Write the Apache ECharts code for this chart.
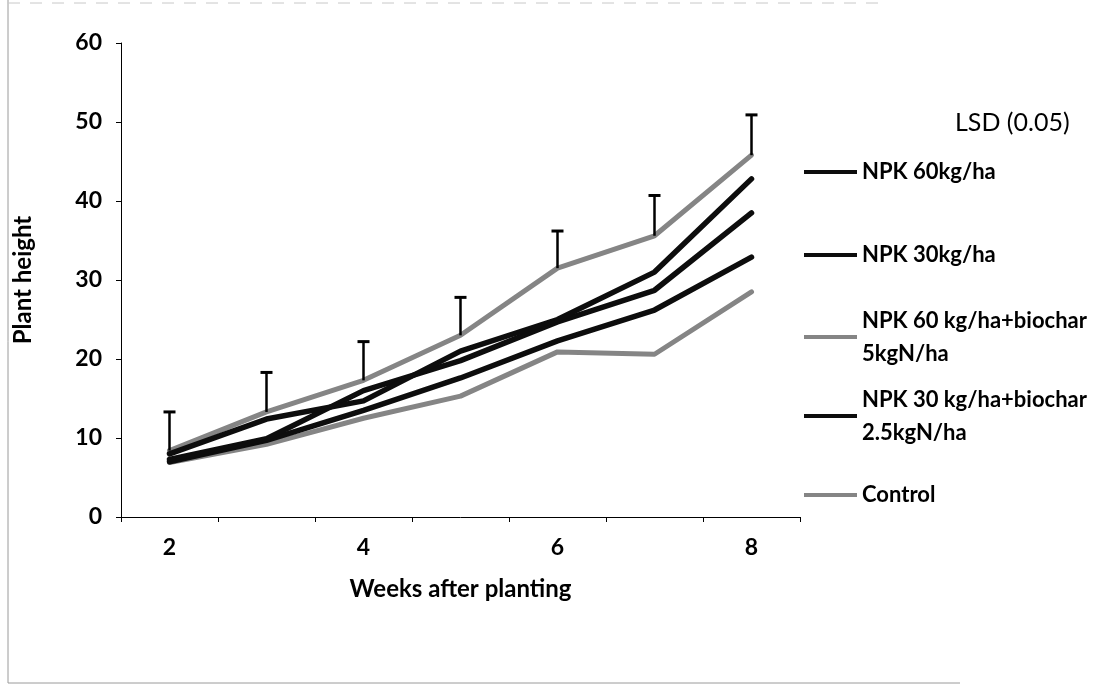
<!DOCTYPE html>
<html>
<head>
<meta charset="utf-8">
<script src="https://cdn.jsdelivr.net/npm/echarts@6/dist/echarts.min.js"></script>
<style>
  html, body { margin: 0; padding: 0; background: #fff; }
  #chart { width: 1116px; height: 690px; }
</style>
</head>
<body>
<div id="chart"></div>
<script>
// ---- data ----
const weeks = ['2', '3', '4', '5', '6', '7', '8'];
const npk60 = [8.0, 12.4, 14.7, 21.0, 25.0, 31.0, 42.8];
const npk30 = [7.0, 9.7, 13.5, 17.6, 22.3, 26.2, 32.9];
const npk60Biochar = [8.4, 13.3, 17.3, 23.0, 31.5, 35.6, 45.8];
const npk30Biochar = [7.3, 9.9, 16.0, 19.8, 24.7, 28.7, 38.5];
const control = [6.9, 9.2, 12.5, 15.3, 20.9, 20.6, 28.5];
const lsd = [4.9, 5.0, 4.9, 4.8, 4.7, 5.1, 5.1];

const names = {
  lsd: 'LSD (0.05)',
  npk60: 'NPK 60kg/ha',
  npk30: 'NPK 30kg/ha',
  npk60b: 'NPK 60 kg/ha+biochar\n5kgN/ha',
  npk30b: 'NPK 30 kg/ha+biochar\n2.5kgN/ha',
  control: 'Control'
};

const FONT = 'Lato';
const BLACK = '#0d0d0d';
const GRAY = '#858585';

const chart = echarts.init(document.getElementById('chart'), null, { renderer: 'canvas' });

function lineSeries(name, data, color, width) {
  return {
    name: name,
    type: 'line',
    data: data,
    symbol: 'none',
    lineStyle: { color: color, width: width, cap: 'round', join: 'round' },
    itemStyle: { color: color },
    emphasis: { disabled: true },
    animation: false
  };
}

const LH1 = 28;   // single-line legend line height
const LH2 = 33;   // two-line legend line height

function legendItem(name, centerY, color, twoLine) {
  const ts = { fontFamily: FONT, fontSize: 22, fontWeight: 'bold', color: '#000' };
  let top;
  if (twoLine) {
    ts.lineHeight = LH2;
    ts.padding = [LH2, 0, 0, 0];
    top = centerY - 1.5 * LH2;
  } else {
    ts.lineHeight = LH1;
    top = centerY - LH1 / 2;
  }
  return {
    data: [{ name: name, icon: 'rect', itemStyle: { color: color } }],
    left: 804,
    top: top,
    padding: 0,
    orient: 'vertical',
    itemWidth: 53,
    itemHeight: 4,
    selectedMode: false,
    textStyle: ts
  };
}

const option = {
  backgroundColor: '#fff',
  animation: false,
  grid: { left: 121, right: 316, top: 43, bottom: 173, containLabel: false },
  xAxis: {
    type: 'category',
    data: weeks,
    boundaryGap: true,
    name: 'Weeks after planting',
    nameLocation: 'middle',
    nameGap: 60,
    nameTextStyle: { fontFamily: FONT, fontSize: 24, fontWeight: 'bold', color: '#000' },
    axisLine: { lineStyle: { color: '#000', width: 1 } },
    axisTick: { show: true, length: 5, interval: 0, lineStyle: { color: '#000' } },
    axisLabel: { interval: 1, margin: 19, fontFamily: FONT, fontSize: 23, fontWeight: 'bold', color: '#000' },
    splitLine: { show: false }
  },
  yAxis: {
    type: 'value',
    min: 0,
    max: 60,
    interval: 10,
    name: 'Plant height',
    nameLocation: 'middle',
    nameGap: 86,
    nameRotate: 90,
    nameTextStyle: { fontFamily: FONT, fontSize: 24, fontWeight: 'bold', color: '#000' },
    axisLine: { show: true, lineStyle: { color: '#000', width: 1 } },
    axisTick: { show: true, length: 5, lineStyle: { color: '#000' } },
    axisLabel: { margin: 19, fontFamily: FONT, fontSize: 23, fontWeight: 'bold', color: '#000' },
    splitLine: { show: false }
  },
  legend: [
    {
      data: [{ name: names.lsd, icon: 'none' }],
      left: 950,
      top: 123 - LH1 / 2,
      padding: 0,
      itemWidth: 0,
      itemHeight: 4,
      selectedMode: false,
      textStyle: { fontFamily: FONT, fontSize: 25, color: '#000', lineHeight: LH1 }
    },
    legendItem(names.npk60, 172, BLACK, false),
    legendItem(names.npk30, 255, BLACK, false),
    legendItem(names.npk60b, 337, GRAY, true),
    legendItem(names.npk30b, 416, BLACK, true),
    legendItem(names.control, 495, GRAY, false)
  ],
  graphic: [
    { type: 'line', shape: { x1: 8, y1: 0, x2: 8, y2: 683 }, style: { stroke: '#9a9a9a', lineWidth: 1 }, silent: true },
    { type: 'line', shape: { x1: 8, y1: 683, x2: 960, y2: 683 }, style: { stroke: '#9a9a9a', lineWidth: 1 }, silent: true },
    { type: 'line', shape: { x1: 8, y1: 3, x2: 880, y2: 3 }, style: { stroke: '#c8c8c8', lineWidth: 1, lineDash: [12, 10] }, silent: true }
  ],
  series: [
    lineSeries(names.control, control, GRAY, 5),
    lineSeries(names.npk60b, npk60Biochar, GRAY, 5),
    lineSeries(names.npk30, npk30, BLACK, 5.5),
    lineSeries(names.npk30b, npk30Biochar, BLACK, 5.5),
    lineSeries(names.npk60, npk60, BLACK, 5.5),
    {
      name: names.lsd,
      type: 'custom',
      data: weeks.map((w, i) => [i, npk60Biochar[i], lsd[i]]),
      encode: { x: 0, y: 1 },
      animation: false,
      silent: true,
      z: 5,
      renderItem: function (params, api) {
        const i = api.value(0);
        const base = api.value(1);
        const top = base + api.value(2);
        const p0 = api.coord([i, base]);
        const p1 = api.coord([i, top]);
        const half = 6;
        return {
          type: 'group',
          children: [
            { type: 'line', shape: { x1: p0[0], y1: p0[1], x2: p1[0], y2: p1[1] }, style: { stroke: '#000', lineWidth: 2.5 } },
            { type: 'line', shape: { x1: p1[0] - half, y1: p1[1], x2: p1[0] + half, y2: p1[1] }, style: { stroke: '#000', lineWidth: 3 } }
          ]
        };
      }
    }
  ]
};

chart.setOption(option);
</script>
</body>
</html>
